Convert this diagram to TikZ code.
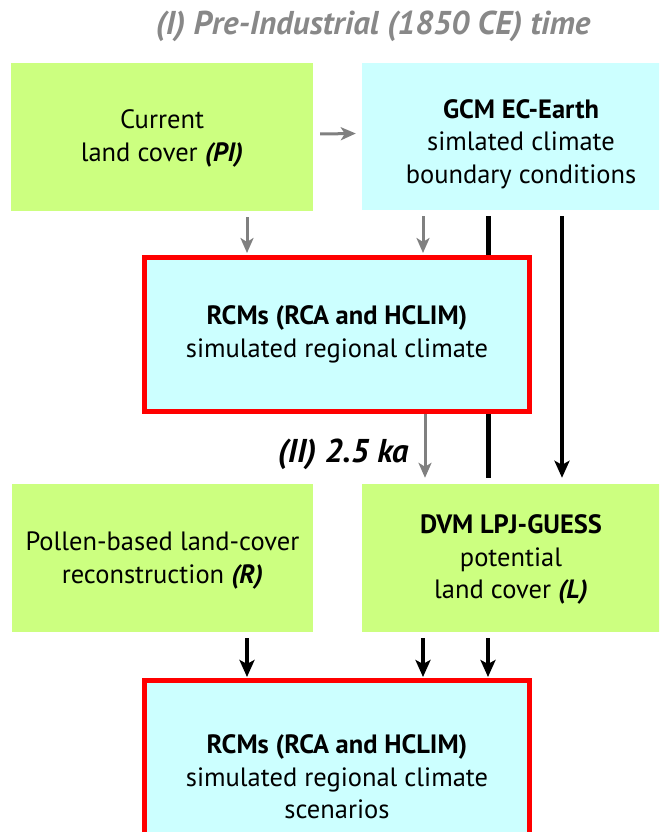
\documentclass[tikz,border=0pt]{standalone}
\usepackage{fontspec}
\setmainfont{PT Sans}
\usetikzlibrary{arrows.meta}
\definecolor{lgreen}{RGB}{204,255,128}
\definecolor{lcyan}{RGB}{204,255,255}
\definecolor{agray}{RGB}{128,128,128}
\definecolor{tgray}{RGB}{136,136,136}
\begin{document}
\begin{tikzpicture}[x=1pt,y=-1pt,
  box/.style={inner sep=0pt,align=center,font=\fontsize{26.5}{32.5}\selectfont},
  greenbox/.style={box,fill=lgreen,draw=none},
  cyanbox/.style={box,fill=lcyan,draw=none},
  redbox/.style={box,fill=lcyan,draw=red,line width=5pt},
  garrow/.style={draw=agray,line width=3pt,-{Stealth[length=15pt,width=13pt,inset=4pt]}},
  barrow/.style={draw=black,line width=4pt,-{Stealth[length=17pt,width=15pt,inset=4pt]}},
  bline/.style={draw=black,line width=5pt},
  title/.style={font=\fontsize{33}{38}\selectfont\bfseries\itshape}
]
\useasboundingbox (0,0) rectangle (659,832);
\clip (0,0) rectangle (659,832);
\fill[white] (0,0) rectangle (659,832);

% column coordinates
\coordinate (xa) at (247,0);
\coordinate (xb) at (423,0);
\coordinate (xc) at (425,0);
\coordinate (xd) at (488,0);
\coordinate (xe) at (562,0);

\node[title,text=tgray,anchor=base] (ttl) at (373,35) {(I) Pre-Industrial (1850 CE) time};

\node[greenbox,minimum width=302pt,minimum height=148pt] (pi) at (162,137)
  {\rule{0pt}{22pt}Current\\land cover \textbf{\textit{(PI)}}};
\node[cyanbox,minimum width=318pt,minimum height=147pt] (gcm) at (521,136.5)
  {\rule{0pt}{34pt}\textbf{GCM EC-Earth}\\simlated climate\\boundary conditions};
\node[greenbox,minimum width=301pt,minimum height=148pt] (pol) at (162.5,558)
  {\rule{0pt}{24pt}Pollen-based land-cover\\reconstruction \textbf{\textit{(R)}}};
\node[greenbox,minimum width=298pt,minimum height=148pt] (dvm) at (511,558)
  {\rule{0pt}{22pt}\textbf{DVM LPJ-GUESS}\\potential\\land cover \textbf{\textit{(L)}}};

% black line from GCM passing behind the first RCM box
\draw[bline] ([yshift=-6pt]gcm.south -| xd) -- ([yshift=6pt]dvm.north -| xd);

\node[redbox,minimum width=385pt,minimum height=154pt] (rcm) at (337,334.5)
  {\textbf{RCMs (RCA and HCLIM)}\\simulated regional climate};
\node[redbox,minimum width=385pt,minimum height=193pt] (rcm2) at (337,777)
  {\textbf{RCMs (RCA and HCLIM)}\\simulated regional climate\\scenarios};

\node[title,text=black,anchor=base] (ka) at (343,462) {(II) 2.5 ka};

% connectors
\draw[garrow] ([xshift=7pt,yshift=3pt]pi.east) -- ([xshift=-6pt,yshift=3pt]gcm.west);
\draw[garrow,shorten >=2pt] ([yshift=-6pt]pi.south -| xa) -- (rcm.north -| xa);
\draw[garrow,shorten >=2pt] ([yshift=-6pt]gcm.south -| xb) -- (rcm.north -| xb);
\draw[barrow] ([yshift=-6pt]gcm.south -| xe) -- ([yshift=6pt]dvm.north -| xe);
\draw[garrow] (rcm.south -| xc) -- ([yshift=6pt]dvm.north -| xc);
\draw[barrow,shorten >=1pt] ([yshift=-6pt]pol.south -| xa) -- (rcm2.north -| xa);
\draw[barrow,shorten >=1pt] ([yshift=-6pt]dvm.south -| xb) -- (rcm2.north -| xb);
\draw[barrow,shorten >=1pt] ([yshift=-6pt]dvm.south -| xd) -- (rcm2.north -| xd);
\end{tikzpicture}
\end{document}
